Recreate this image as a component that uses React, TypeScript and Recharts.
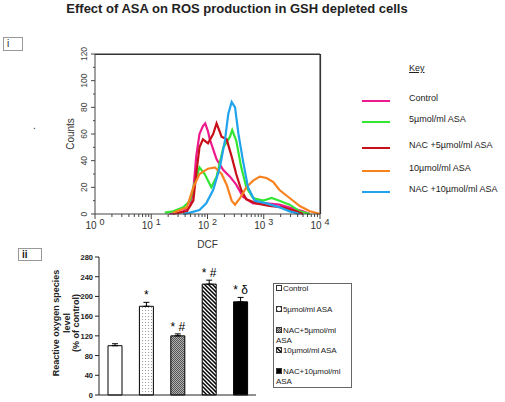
import React from 'react';
import { LineChart, Line, XAxis, YAxis, ReferenceLine, BarChart, Bar, Cell, ErrorBar, LabelList } from 'recharts';

const FONT = '"Liberation Sans", Arial, sans-serif';

// histogram readings: [DCF, counts]
const controlPts = [[21, 0], [37, 2], [49, 6], [56, 18], [63, 43], [72, 60], [83, 66], [91, 68], [102, 62], [110, 56], [145, 41], [191, 33], [251, 28], [324, 22], [427, 13], [646, 8], [1122, 8], [1905, 7], [3311, 4], [5012, 2], [6607, 0]];
const asa5Pts = [[17.4, 1], [24.5, 2], [37, 5], [49, 10], [56, 20], [72, 35], [89, 30], [117, 20], [145, 28], [191, 50], [251, 58], [275, 63], [324, 55], [398, 35], [490, 20], [646, 12], [977, 10], [1380, 12], [1905, 10], [2884, 7], [4365, 2], [6607, 0]];
const nac5Pts = [[24, 0], [43, 2], [56, 10], [63, 30], [72, 50], [83, 56], [102, 53], [126, 60], [145, 68], [178, 58], [219, 56], [269, 43], [324, 30], [398, 18], [490, 11], [741, 8], [1259, 6], [2188, 5], [3802, 2], [5012, 0]];
const asa10Pts = [[24.5, 1], [43, 5], [56, 20], [72, 30], [102, 34], [135, 35], [178, 30], [219, 22], [269, 10], [309, 7], [380, 12], [490, 20], [646, 25], [851, 28], [1122, 27], [1479, 24], [1905, 18], [2884, 12], [4365, 6], [6607, 2], [10000, 0]];
const nac10Pts = [[37, 0], [49, 1], [72, 3], [95, 8], [126, 18], [166, 35], [204, 55], [234, 75], [269, 84], [309, 80], [355, 60], [427, 40], [525, 20], [692, 10], [1122, 8], [1905, 5], [2884, 2], [4365, 0]];

const histNames = ['Control', '5µmol/ml ASA', 'NAC +5µmol/ml ASA', '10µmol/ml ASA', 'NAC +10µmol/ml ASA'];
const histColors = ['#ec1a8c', '#33e633', '#c8101a', '#f7821f', '#1fa3ec'];
const histSeries = [controlPts, asa5Pts, nac5Pts, asa10Pts, nac10Pts];

const decadeTicks = [1, 10, 100, 1000, 10000];
const minorSteps = [2, 3, 4, 5, 6, 7, 8, 9];
const countTicks = [0, 10, 20, 30, 40, 50, 60, 70, 80, 90, 100, 110, 120];

// bar panel
const barNames = ['Control', '5µmol/ml ASA', 'NAC+5µmol/ml ASA', '10µmol/ml ASA', 'NAC+10µmol/ml ASA'];
const barValues = [100, 180, 120, 225, 189];
const barErrors = [4, 8, 4, 8, 9];
const barMarks = ['', '*', '*#', '*#', '*δ'];
const barFills = ['#ffffff', 'url(#dots)', 'url(#checker)', 'url(#stripes)', '#000000'];
const rosTicks = [0, 40, 80, 120, 160, 200, 240, 280];

const xTicks = decadeTicks.slice(0, 4).flatMap((d) => [d, ...minorSteps.map((k) => k * d)]).concat([10000]);
const toPoints = (pts: number[][]) => pts.map(([dcf, count]) => ({ dcf, count }));

const LogTick = (props: any) => {
  const { x, y, payload } = props;
  const major = decadeTicks.includes(payload.value);
  const exp = Math.round(Math.log10(payload.value));
  return (
    <g>
      <line x1={x} x2={x} y1={y} y2={y + (major ? 5 : 3)} stroke="#444" />
      {major && (
        <text x={x} y={y + 15} textAnchor="middle" fontSize={10} fill="#333" fontFamily={FONT}>
          <tspan>10</tspan>
          <tspan dx={3} dy={-4} fontSize={9}>{exp}</tspan>
        </text>
      )}
    </g>
  );
};

const CountTick = (props: any) => {
  const { x, y, payload } = props;
  const major = payload.value % 20 === 0;
  return (
    <g>
      <line x1={x} x2={x - (major ? 4 : 2)} y1={y} y2={y} stroke="#444" />
      {major && (
        <text x={x - 8} y={y} textAnchor="middle" fontSize={8.5} fill="#444" fontFamily={FONT} transform={`rotate(-90 ${x - 8} ${y})`}>
          {payload.value}
        </text>
      )}
    </g>
  );
};

const RosTick = (props: any) => {
  const { x, y, payload } = props;
  return (
    <g>
      <line x1={x} x2={x - 4} y1={y} y2={y} stroke="#222" />
      <text x={x - 6} y={y + 3} textAnchor="end" fontSize={7.5} fontWeight="bold" fill="#222" fontFamily={FONT}>
        {payload.value}
      </text>
    </g>
  );
};

const MarkLabel = (props: any) => {
  const { x, y, width, height, index } = props;
  const mark = barMarks[index];
  if (!mark) return null;
  const errPx = (height / barValues[index]) * barErrors[index];
  return (
    <text x={x + width / 2} y={y - errPx - 3} textAnchor="middle" fontSize={12} fill="#000" fontFamily={FONT}>
      {mark.split('').join(' ')}
    </text>
  );
};

const App = () => {
  const barData = barNames.map((name, i) => ({ name, value: barValues[i], err: [0, barErrors[i]] }));
  const histKey = [101, 122, 148, 171, 192];
  const barKey = [289, 310, 331, 351, 372];

  return (
    <div style={{ position: 'absolute', left: 0, top: 0, width: 505, height: 402, background: '#fff', fontFamily: FONT, color: '#222' }}>
      <div style={{ position: 'absolute', left: 37, top: 0, width: 400, textAlign: 'center', fontSize: 13, fontWeight: 'bold', lineHeight: '17px', whiteSpace: 'nowrap' }}>
        Effect of ASA on ROS production in GSH depleted cells
      </div>
      <div style={{ position: 'absolute', left: 3, top: 37, width: 15, height: 12, border: '1px solid #999', fontSize: 10, lineHeight: '12px', paddingLeft: 3 }}>i</div>
      <div style={{ position: 'absolute', left: 33, top: 120, fontSize: 10 }}>.</div>

      <div style={{ position: 'absolute', left: 0, top: 0 }}>
        <LineChart width={330} height={250} margin={{ top: 54, right: 10, bottom: 10, left: 65 }}>
          <XAxis
            dataKey="dcf"
            type="number"
            scale="log"
            domain={[1, 10000]}
            ticks={xTicks}
            interval={0}
            tickSize={0}
            tickMargin={0}
            height={26}
            tick={<LogTick />}
            stroke="#444"
            allowDataOverflow
            label={{ value: 'DCF', position: 'insideBottom', offset: -8, fontSize: 10, fill: '#333', fontFamily: FONT }}
          />
          <YAxis
            type="number"
            domain={[0, 120]}
            ticks={countTicks}
            interval={0}
            tickSize={0}
            tickMargin={0}
            width={30}
            tick={<CountTick />}
            stroke="#444"
            label={{ value: 'Counts', angle: -90, position: 'insideLeft', offset: 5, fontSize: 10, fill: '#333', fontFamily: FONT, style: { textAnchor: 'middle' } }}
          />
          <ReferenceLine y={120} stroke="#333" strokeWidth={1} />
          <ReferenceLine x={10000} stroke="#333" strokeWidth={1} />
          {histSeries.map((pts, i) => (
            <Line
              key={histNames[i]}
              data={toPoints(pts)}
              dataKey="count"
              name={histNames[i]}
              stroke={histColors[i]}
              strokeWidth={2.2}
              dot={false}
              type="linear"
              isAnimationActive={false}
            />
          ))}
        </LineChart>
      </div>
      {/* top and right edges of the histogram frame */}
      <svg width={505} height={402} style={{ position: 'absolute', left: 0, top: 0, pointerEvents: 'none' }}>
        <path d="M95,54.5 H320.5 V214" fill="none" stroke="#333" strokeWidth={1.2} />
      </svg>

      <div style={{ position: 'absolute', left: 409, top: 63, fontSize: 9, textDecoration: 'underline' }}>Key</div>
      {histNames.map((n, i) => (
        <React.Fragment key={n}>
          <div style={{ position: 'absolute', left: 362, top: histKey[i] - 1, width: 28, height: 2, background: histColors[i] }} />
          <div style={{ position: 'absolute', left: 409, top: histKey[i] - 8, fontSize: 9, whiteSpace: 'nowrap' }}>{n}</div>
        </React.Fragment>
      ))}

      <div style={{ position: 'absolute', left: 18, top: 248, width: 19, height: 11, border: '1px solid #999', fontSize: 10, lineHeight: '11px', fontWeight: 'bold', paddingLeft: 3 }}>ii</div>

      <div style={{ position: 'absolute', left: 0, top: 240 }}>
        <BarChart width={270} height={165} data={barData} margin={{ top: 17, right: 14, bottom: 5, left: 42 }} barSize={14}>
          <defs>
            <pattern id="dots" width="3" height="3" patternUnits="userSpaceOnUse">
              <rect width="3" height="3" fill="#fff" />
              <rect x="1" y="1" width="1" height="1" fill="#9a9a9a" />
            </pattern>
            <pattern id="checker" width="2" height="2" patternUnits="userSpaceOnUse">
              <rect width="2" height="2" fill="#b0b0b0" />
              <rect width="1" height="1" fill="#555" />
              <rect x="1" y="1" width="1" height="1" fill="#555" />
            </pattern>
            <pattern id="stripes" width="4" height="4" patternUnits="userSpaceOnUse">
              <rect width="4" height="4" fill="#fff" />
              <path d="M-1,-1 L5,5 M-1,3 L1,5 M3,-1 L5,1" stroke="#000" strokeWidth={1.5} />
            </pattern>
          </defs>
          <XAxis dataKey="name" tick={false} tickLine={false} height={5} stroke="#222" />
          <YAxis
            domain={[0, 280]}
            ticks={rosTicks}
            interval={0}
            tickSize={0}
            tickMargin={0}
            width={57}
            tick={<RosTick />}
            stroke="#222"
            label={{
              content: (p: any) => {
                const cy = p.viewBox.y + p.viewBox.height / 2 - 3;
                const lines: [string, number][] = [['Reactive oxygen species', 56], ['level', 67], ['(% of control)', 76]];
                return (
                  <g>
                    {lines.map(([t, lx]) => (
                      <text key={t} x={lx} y={cy} transform={`rotate(-90 ${lx} ${cy})`} textAnchor="middle" dominantBaseline="central" fontSize={9} fontWeight="bold" fill="#222" fontFamily={FONT}>
                        {t}
                      </text>
                    ))}
                  </g>
                );
              },
            }}
          />
          <Bar dataKey="value" stroke="#000" strokeWidth={1} isAnimationActive={false}>
            {barData.map((d, i) => (
              <Cell key={d.name} fill={barFills[i]} />
            ))}
            <ErrorBar dataKey="err" width={3} stroke="#000" strokeWidth={1} />
            <LabelList dataKey="value" content={<MarkLabel />} />
          </Bar>
        </BarChart>
      </div>

      <div style={{ position: 'absolute', left: 273, top: 283, width: 77, height: 103, border: '1px solid #666', fontSize: 8, letterSpacing: -0.1 }}>
        {barNames.map((n, i) => {
          const two = n.startsWith('NAC');
          const first = two ? n.replace(' ASA', '') : n;
          return (
            <div key={n} style={{ position: 'absolute', left: 2, top: barKey[i] - 283 - 6, lineHeight: '10px', whiteSpace: 'nowrap' }}>
              <svg width={6} height={6} style={{ marginRight: 1, verticalAlign: 'baseline' }}>
                <rect x={0.5} y={0.5} width={5} height={5} fill={barFills[i]} stroke="#333" />
              </svg>
              {first}
              {two && <div>ASA</div>}
            </div>
          );
        })}
      </div>
    </div>
  );
};

export default App;
